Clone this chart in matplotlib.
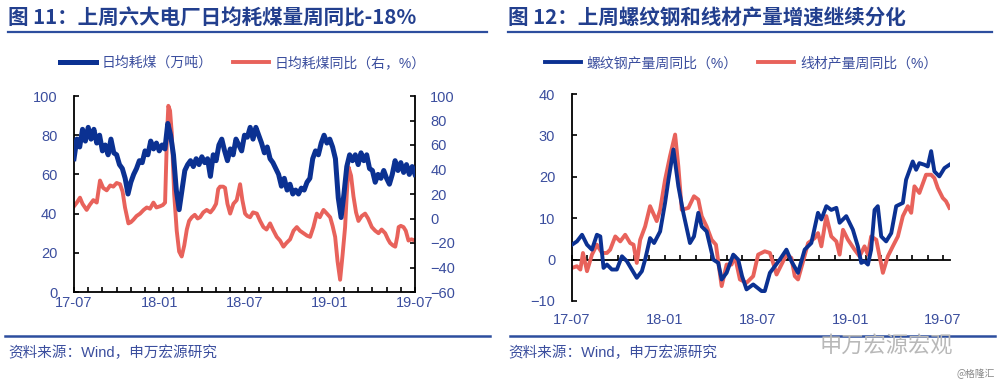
import numpy as np
import matplotlib.pyplot as plt
from matplotlib.lines import Line2D

plt.rcParams['font.family'] = ['Liberation Sans', 'Noto Sans CJK SC', 'DejaVu Sans']

# ---- data: months since 2017-07 ----
xt_pos = [0, 6, 12, 18, 24]
xt_lab = ['17-07', '18-01', '18-07', '19-01', '19-07']

# left chart: daily coal use (10k t), sampled every ~0.2 month
coal_x = np.linspace(0, 24, 121)
coal = [68, 78, 74, 83, 77, 84, 78, 83, 76, 80, 72, 75, 70, 78, 71, 70, 65, 63, 58, 50,
        56, 60, 63, 67, 66, 72, 70, 77, 73, 76, 72, 75, 73, 86, 80, 70, 52, 42, 52, 62,
        65, 67, 64, 68, 65, 69, 66, 68, 59, 70, 67, 75, 78, 72, 67, 73, 70, 78, 75, 72,
        80, 79, 84, 78, 84, 80, 76, 71, 74, 68, 66, 63, 60, 54, 58, 52, 55, 50, 52, 50,
        53, 52, 56, 58, 68, 72, 70, 76, 80, 76, 78, 74, 68, 48, 38, 50, 64, 70, 67, 70,
        65, 71, 67, 70, 63, 62, 56, 60, 58, 62, 58, 55, 60, 67, 62, 66, 61, 65, 60, 64, 60]

# left chart: coal use yoy (%), right axis
yoy_x = [0.0, 0.2, 0.42, 0.6, 0.89, 1.1, 1.36, 1.6, 1.83, 2.05, 2.3, 2.55, 2.77, 3.0, 3.24,
         3.42, 3.59, 3.83, 4.0, 4.18, 4.4, 4.65, 4.9, 5.12, 5.35, 5.59, 5.8, 6.06, 6.25, 6.41,
         6.55, 6.64, 6.76, 6.88, 7.05, 7.23, 7.4, 7.58, 7.76, 7.94, 8.1, 8.29, 8.5, 8.7, 8.87,
         9.1, 9.34, 9.6, 9.81, 10.0, 10.15, 10.28, 10.5, 10.63, 10.8, 10.99, 11.22, 11.45,
         11.69, 11.85, 12.04, 12.2, 12.39, 12.6, 12.87, 13.1, 13.33, 13.55, 13.8, 14.0, 14.27,
         14.5, 14.74, 14.95, 15.21, 15.45, 15.68, 15.9, 16.15, 16.4, 16.62, 16.85, 17.09, 17.3,
         17.56, 17.8, 18.03, 18.2, 18.38, 18.55, 18.73, 18.9, 19.08, 19.2, 19.32, 19.5, 19.67,
         19.85, 20.02, 20.25, 20.49, 20.7, 20.96, 21.2, 21.43, 21.65, 21.9, 22.1, 22.25, 22.45,
         22.61, 22.75, 22.85, 23.0, 23.19, 23.35, 23.54, 23.75, 24.0]
yoy = [10, 13, 17, 12, 7, 11, 15, 13, 31, 25, 23, 27, 26, 29, 28,
       22, 9, -4, -3, -1, 2, 4, 7, 9, 8, 13, 9, 10, 11, 13,
       70, 92, 88, 70, 20, -10, -27, -31, -22, -9, -2, 1, 3, 0, 1,
       5, 7, 5, 8, 12, 24, 26, 26, 25, 12, 4, 12, 15,
       28, 15, 4, 2, 1, 5, 4, -2, -7, -9, -4, -9, -15,
       -18, -23, -20, -17, -10, -7, -10, -12, -14, -15, -7, 4, 1,
       7, 4, 1, -6, -15, -35, -50, -30, -7, 20, 42, 35, 18,
       5, -2, 2, 4, 0, -7, -10, -12, -9, -12, -17, -20, -22,
       -23, -15, -7, -6, -7, -10, -18, -17, -18]

# right chart: rebar output wow (%)
rebar_x = [0, 0.32, 0.65, 0.97, 1.29, 1.61, 1.83, 2.04, 2.26, 2.58, 2.9, 3.23, 3.55, 3.87,
           4.19, 4.52, 4.73, 5.05, 5.31, 5.7, 6.02, 6.24, 6.56, 6.88, 7.2, 7.63, 7.89, 8.17,
           8.39, 8.71, 9.14, 9.46, 9.68, 10.0, 10.43, 10.75, 11.0, 11.29, 11.72, 12.26, 12.47,
           12.8, 13.12, 13.44, 13.87, 14.19, 14.62, 15.05, 15.48, 15.91, 16.13, 16.45, 16.77,
           17.1, 17.31, 17.74, 18.17, 18.49, 18.71, 18.92, 19.14, 19.35, 19.57, 19.78, 20.0,
           20.32, 20.65, 20.97, 21.4, 21.61, 22.04, 22.26, 22.47, 22.8, 23.01, 23.23, 23.44,
           23.76, 24.09, 24.41]
rebar = [3.6, 4.4, 6, 3.6, 2.4, 6, 5.6, -2, -1.2, -2.4, -2.4, 0.8, -0.4, -2.4,
         -4.4, -2.8, 0, 5.2, 4, 6.8, 13.7, 19.3, 26.6, 17.7, 11.3, 4, 5.6, 11.3,
         8, 6.8, 0, -0.8, -4.8, -3.2, 1.2, 0, -4, -7.2, -6, -7.6, -7.6,
         -3.2, -1.6, 0, 2.4, -0.4, -3.2, 2.4, 4, 11.3, 9.7, 12.9, 12,
         12.5, 8.9, 10.5, 7.2, 3.2, -0.8, -0.4, -1.2, 2.4, 12, 12.9, 5.6,
         4.4, 6.4, 12.9, 13.7, 19.3, 23.7, 21.7, 23.3, 22.9, 22.5, 26.2, 21.3,
         20.1, 22.1, 22.9]

# right chart: wire rod output wow (%)
wire_x = [0, 0.32, 0.54, 0.71, 0.97, 1.29, 1.61, 1.94, 2.26, 2.47, 2.8, 3.12, 3.44, 3.76,
          3.98, 4.19, 4.41, 4.73, 5.05, 5.48, 5.7, 6.02, 6.34, 6.67, 6.88, 7.1, 7.53, 7.89,
          8.17, 8.39, 8.71, 9.03, 9.31, 9.53, 9.68, 10.0, 10.32, 10.54, 10.86, 11.29, 11.72,
          12.04, 12.47, 12.8, 13.01, 13.23, 13.55, 13.87, 14.19, 14.41, 14.62, 14.95, 15.27,
          15.7, 15.91, 16.13, 16.45, 16.77, 17.1, 17.31, 17.53, 17.85, 18.28, 18.6, 18.92,
          19.14, 19.35, 19.68, 20.11, 20.43, 20.75, 21.08, 21.4, 21.72, 21.94, 22.15, 22.47,
          22.9, 23.23, 23.44, 23.66, 23.98, 24.19, 24.41]
wire = [-2, -1.6, -2.4, 1.6, -2.8, 1.2, 3.6, 1.6, 1.6, 2.4, 5.6, 4.4, 6, 4,
        3.6, -0.8, 4.8, 8, 12.9, 9.3, 12, 19.3, 25, 30.2, 22.5, 12, 12.5, 15.3,
        14.5, 10.5, 8, 4.8, 3.6, -2.4, -6.4, -1.2, -1.2, 0.8, -4.8, -5.6, -4,
        1.2, 2, 1.6, -0.8, -3.6, -1.2, 1.2, 0.4, -4, -4.8, -0.4, 4,
        5.2, 6.4, 3.2, 10.5, 5.6, 4.4, 1.2, 7.2, 4.8, 2.4, 0.8, 3.2,
        1.2, 5.6, 4.8, -3.2, 0.8, 3.2, 5.6, 10.5, 12.9, 11.3, 17.7, 16.1,
        20.5, 20.5, 19.7, 17.3, 14.9, 14.1, 12.5]

BLUE = '#0B3192'
RED = '#E8625B'
TXT = '#3B4E9E'
HEAD = '#223F8E'

fig = plt.figure(figsize=(10, 3.89), dpi=100)
W, H = 1000, 389


def fx(px):
    return px / W


def fy(py):
    return 1 - py / H


# ---- left chart ----
ax1 = fig.add_axes([fx(74), fy(292), fx(415 - 74), (292 - 96) / H])
ax1.plot(coal_x, coal, color=BLUE, lw=3.6, label='日均耗煤（万吨）', zorder=3)
ax1.set_xlim(0, 24)
ax1.set_ylim(0, 100)
ax1.set_yticks(range(0, 101, 20))
ax2 = ax1.twinx()
ax2.plot(yoy_x, yoy, color=RED, lw=2.8, label='日均耗煤同比（右，%）', zorder=2)
ax2.set_ylim(-60, 100)
ax2.set_yticks(range(-60, 101, 20))
ax1.set_zorder(ax2.get_zorder() + 1)
ax1.patch.set_visible(False)

for a in (ax1, ax2):
    a.spines['top'].set_visible(False)
ax1.spines['right'].set_visible(False)
ax2.spines['left'].set_visible(False)
ax2.spines['bottom'].set_visible(False)
ax1.set_xticks(xt_pos)
ax1.set_xticklabels(xt_lab)
ax1.set_xticks(range(25), minor=True)
ax1.tick_params(axis='x', which='both', direction='in', length=3.5, width=1.2,
                colors='black', labelcolor=TXT, labelsize=10.5, pad=3)
ax1.tick_params(axis='y', direction='in', length=3.5, width=1.2, labelcolor=TXT,
                labelsize=10.5, pad=12)
ax2.tick_params(axis='y', direction='in', length=3.5, width=1.2, labelcolor=TXT,
                labelsize=10.5, pad=11)
for s in ('left', 'bottom'):
    ax1.spines[s].set_linewidth(1.3)
ax2.spines['right'].set_linewidth(1.3)

h1, l1 = ax1.get_legend_handles_labels()
h2, l2 = ax2.get_legend_handles_labels()
fig.legend(h1 + h2, l1 + l2, loc='center', bbox_to_anchor=(fx(243), fy(63)), ncol=2,
           frameon=False, fontsize=10, handlelength=2.6, handletextpad=0.4,
           columnspacing=1.5, labelcolor=TXT)

# ---- right chart ----
ax3 = fig.add_axes([fx(572), fy(301), fx(950 - 572), (301 - 94) / H])
ax3.plot(rebar_x, rebar, color=BLUE, lw=2.8, label='螺纹钢产量周同比（%）', zorder=3)
ax3.plot(wire_x, wire, color=RED, lw=2.8, label='线材产量周同比（%）', zorder=2)
ax3.set_xlim(0, 24.45)
ax3.set_ylim(-10, 40)
ax3.set_yticks(range(-10, 41, 10))
for s in ('top', 'right', 'bottom'):
    ax3.spines[s].set_visible(False)
ax3.spines['left'].set_linewidth(1.3)
ax3.set_xticks(xt_pos)
ax3.set_xticklabels(xt_lab)
ax3.tick_params(axis='x', length=0, labelcolor=TXT, labelsize=10.5, pad=9)
ax3.tick_params(axis='y', direction='in', length=3.5, width=1.2, labelcolor=TXT,
                labelsize=10.5, pad=12)
zero = ax3.secondary_xaxis(0.2)
zero.set_xticks(range(25))
zero.tick_params(direction='in', length=3.5, width=1.2, labelbottom=False)
zero.spines['bottom'].set_linewidth(1.3)

fig.legend(*ax3.get_legend_handles_labels(), loc='center', bbox_to_anchor=(fx(741), fy(63)),
           ncol=2, frameon=False, fontsize=10, handlelength=2.6, handletextpad=0.4,
           columnspacing=1.5, labelcolor=TXT)

# ---- titles, rules, footers ----
title_font = ['Noto Sans CJK SC', 'DejaVu Sans']
fig.text(fx(8), fy(18), '图 11：上周六大电厂日均耗煤量周同比-18%', family=title_font,
         fontsize=14.8, fontweight='bold', color=HEAD, va='center')
fig.text(fx(508), fy(18), '图 12：上周螺纹钢和线材产量增速继续分化', family=title_font,
         fontsize=14.8, fontweight='bold', color=HEAD, va='center')
for x0, x1 in ((8, 487), (508, 992)):
    fig.add_artist(Line2D([fx(x0), fx(x1)], [fy(32), fy(32)], color='#2D4E9E', lw=1.6))
for x0, x1 in ((5, 490), (510, 995)):
    fig.add_artist(Line2D([fx(x0), fx(x1)], [fy(336), fy(336)], color='#2D4E9E', lw=1.8))
fig.text(fx(8), fy(353), '资料来源：Wind，申万宏源研究', fontsize=10.5, color=TXT, va='center')
fig.text(fx(508), fy(353), '资料来源：Wind，申万宏源研究', fontsize=10.5, color=TXT, va='center')
fig.text(fx(820), fy(346), '申万宏源宏观', family=title_font, fontsize=16, color='#b8b8b8',
         va='center')
fig.text(fx(995), fy(374), '@格隆汇', family=title_font, fontsize=7, color='#888888',
         va='center', ha='right')

fig.savefig('out.png', dpi=100)
